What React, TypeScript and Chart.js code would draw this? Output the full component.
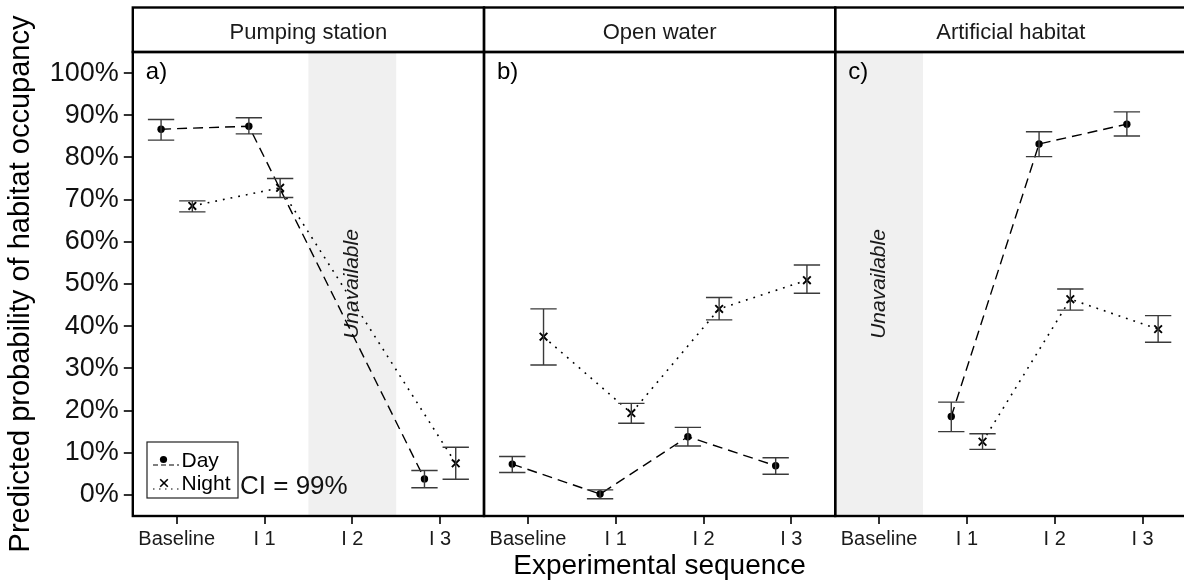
import React, { useEffect, useRef } from 'react';
import { Chart, registerables } from 'chart.js';

Chart.register(...registerables);

// ---------- data ----------
const categories = ['Baseline', 'I 1', 'I 2', 'I 3'];
const panelNames = ['Pumping station', 'Open water', 'Artificial habitat'];
const panelTags = ['a)', 'b)', 'c)'];
// category index that is unavailable in each panel (null = none)
const unavailableCategory: (number | null)[] = [2, null, 0];

const yTickValues = [0, 10, 20, 30, 40, 50, 60, 70, 80, 90, 100];

// Pumping station
const dayPumping = [86.7, 87.4, null, 3.8];
const dayPumpingLo = [84.1, 85.6, null, 1.7];
const dayPumpingHi = [89.0, 89.4, null, 5.8];
const nightPumping = [68.5, 72.8, null, 7.5];
const nightPumpingLo = [67.1, 70.5, null, 3.7];
const nightPumpingHi = [69.7, 75.0, null, 11.3];

// Open water
const dayOpen = [7.3, 0.2, 13.8, 6.9];
const dayOpenLo = [5.3, -0.9, 11.6, 4.9];
const dayOpenHi = [9.1, 1.2, 16.0, 8.8];
const nightOpen = [37.5, 19.4, 44.1, 50.9];
const nightOpenLo = [30.8, 17.0, 41.5, 47.8];
const nightOpenHi = [44.1, 21.7, 46.8, 54.5];

// Artificial habitat
const dayArtificial = [null, 18.6, 83.2, 87.9];
const dayArtificialLo = [null, 15.0, 80.2, 85.1];
const dayArtificialHi = [null, 22.0, 86.1, 90.8];
const nightArtificial = [null, 12.6, 46.4, 39.3];
const nightArtificialLo = [null, 10.8, 43.8, 36.2];
const nightArtificialHi = [null, 14.5, 48.8, 42.5];

const dayMean = [dayPumping, dayOpen, dayArtificial];
const dayLo = [dayPumpingLo, dayOpenLo, dayArtificialLo];
const dayHi = [dayPumpingHi, dayOpenHi, dayArtificialHi];
const nightMean = [nightPumping, nightOpen, nightArtificial];
const nightLo = [nightPumpingLo, nightOpenLo, nightArtificialLo];
const nightHi = [nightPumpingHi, nightOpenHi, nightArtificialHi];

// ---------- helpers ----------
const FONT = '"Liberation Sans", Arial, Helvetica, sans-serif';
const DODGE = 0.178;
const CAP = 0.15;
const xTickValues = Array.from({ length: 12 }, (_, i) => i + 1);

function pos(panel: number, cat: number) {
  return panel * 4 + cat + 1;
}

function toPoints(series: (number | null)[][], offset: number) {
  const pts: { x: number; y: number | null }[] = [];
  series.forEach((vals, p) => {
    vals.forEach((v, c) => {
      if (v !== null) pts.push({ x: pos(p, c) + offset, y: v });
    });
    if (p < series.length - 1) pts.push({ x: p * 4 + 4.5, y: null });
  });
  return pts;
}

function drawCrossRot(ctx: CanvasRenderingContext2D, cx: number, cy: number, r: number) {
  ctx.beginPath();
  ctx.moveTo(cx - r, cy - r);
  ctx.lineTo(cx + r, cy + r);
  ctx.moveTo(cx - r, cy + r);
  ctx.lineTo(cx + r, cy - r);
  ctx.stroke();
}

const decorPlugin = {
  id: 'decor',
  beforeDatasetsDraw(chart: any) {
    const { ctx, chartArea: a, scales } = chart;
    const x = scales.x, y = scales.y;
    ctx.save();
    unavailableCategory.forEach((c, i) => {
      if (c === null) return;
      const p = pos(i, c);
      const l = x.getPixelForValue(p - 0.5);
      const r = x.getPixelForValue(p + 0.5);
      ctx.fillStyle = '#f0f0f0';
      ctx.fillRect(l, a.top, r - l, a.bottom - a.top);
      ctx.save();
      ctx.translate(x.getPixelForValue(p), y.getPixelForValue(50));
      ctx.rotate(-Math.PI / 2);
      ctx.font = `italic 21px ${FONT}`;
      ctx.fillStyle = '#1a1a1a';
      ctx.textAlign = 'center';
      ctx.textBaseline = 'middle';
      ctx.fillText('Unavailable', 0, 0);
      ctx.restore();
    });
    ctx.restore();
  },
  afterDatasetsDraw(chart: any) {
    const { ctx, scales } = chart;
    const x = scales.x, y = scales.y;
    ctx.save();
    ctx.strokeStyle = '#3a3a3a';
    ctx.lineWidth = 1.4;
    ctx.setLineDash([]);
    const groups = [
      { lo: dayLo, hi: dayHi, off: -DODGE },
      { lo: nightLo, hi: nightHi, off: DODGE },
    ];
    groups.forEach((g) => {
      g.lo.forEach((vals, p) => {
        vals.forEach((lo, c) => {
          const hi = g.hi[p][c];
          if (lo === null || hi === null) return;
          const cx = pos(p, c) + g.off;
          const px = x.getPixelForValue(cx);
          const pl = x.getPixelForValue(cx - CAP);
          const pr = x.getPixelForValue(cx + CAP);
          const yl = y.getPixelForValue(lo);
          const yh = y.getPixelForValue(hi);
          ctx.beginPath();
          ctx.moveTo(px, yl);
          ctx.lineTo(px, yh);
          ctx.moveTo(pl, yl);
          ctx.lineTo(pr, yl);
          ctx.moveTo(pl, yh);
          ctx.lineTo(pr, yh);
          ctx.stroke();
        });
      });
    });
    ctx.restore();
  },
  afterDraw(chart: any) {
    const { ctx, chartArea: a, scales } = chart;
    const x = scales.x;
    ctx.save();
    const stripTop = 7.5;
    panelNames.forEach((name, i) => {
      const l = x.getPixelForValue(i * 4 + 0.5);
      const r = x.getPixelForValue(i * 4 + 4.5);
      ctx.strokeStyle = '#000';
      ctx.lineWidth = 2.4;
      ctx.setLineDash([]);
      ctx.strokeRect(l, stripTop, r - l, a.top - stripTop);
      ctx.strokeRect(l, a.top, r - l, a.bottom - a.top);
      ctx.fillStyle = '#1a1a1a';
      ctx.font = `22px ${FONT}`;
      ctx.textAlign = 'center';
      ctx.textBaseline = 'alphabetic';
      ctx.fillText(name, (l + r) / 2, 38.5);
      ctx.textAlign = 'left';
      ctx.font = `24px ${FONT}`;
      ctx.fillStyle = '#000';
      ctx.fillText(panelTags[i], l + 13, 79);
    });

    // legend
    ctx.lineWidth = 1.2;
    ctx.strokeStyle = '#222';
    ctx.strokeRect(147, 442, 91, 56);
    ctx.strokeStyle = '#000';
    ctx.fillStyle = '#000';
    ctx.lineWidth = 1.2;
    ctx.setLineDash([5, 3]);
    ctx.beginPath();
    ctx.moveTo(153, 465);
    ctx.lineTo(179, 465);
    ctx.stroke();
    ctx.setLineDash([1.5, 4.5]);
    ctx.beginPath();
    ctx.moveTo(153, 489);
    ctx.lineTo(179, 489);
    ctx.stroke();
    ctx.setLineDash([]);
    ctx.beginPath();
    ctx.arc(163.5, 459.5, 3.6, 0, Math.PI * 2);
    ctx.fill();
    ctx.lineWidth = 1.6;
    drawCrossRot(ctx, 164, 483, 3.8);
    ctx.font = `21px ${FONT}`;
    ctx.textAlign = 'left';
    ctx.textBaseline = 'alphabetic';
    ctx.fillText('Day', 181.5, 466.5);
    ctx.fillText('Night', 181.5, 490);

    ctx.font = `26px ${FONT}`;
    ctx.fillStyle = '#111';
    ctx.fillText('CI = 99%', 240, 493.5);
    ctx.restore();
  },
};

export default function App() {
  const canvasRef = useRef<HTMLCanvasElement | null>(null);

  useEffect(() => {
    const canvas = canvasRef.current;
    if (!canvas) return;
    const chart = new Chart(canvas, {
      type: 'line',
      data: {
        datasets: [
          {
            label: 'Day',
            data: toPoints(dayMean, -DODGE) as any,
            borderColor: '#000',
            backgroundColor: '#000',
            borderWidth: 1.4,
            borderDash: [10, 6],
            pointStyle: 'circle',
            pointRadius: 3.7,
            pointBorderWidth: 0,
            pointBackgroundColor: '#000',
            spanGaps: false,
            tension: 0,
          },
          {
            label: 'Night',
            data: toPoints(nightMean, DODGE) as any,
            borderColor: '#000',
            backgroundColor: '#000',
            borderWidth: 1.6,
            borderDash: [1.8, 6],
            pointStyle: 'crossRot',
            pointRadius: 5.4,
            pointBorderWidth: 1.9,
            pointBorderColor: '#000',
            spanGaps: false,
            tension: 0,
          },
        ],
      },
      options: {
        animation: false,
        responsive: false,
        devicePixelRatio: 1,
        events: [],
        layout: { padding: { left: 0, right: 13.6, top: 52, bottom: 0 } },
        plugins: {
          legend: { display: false },
          tooltip: { enabled: false },
        },
        scales: {
          x: {
            type: 'linear',
            min: 0.5,
            max: 12.5,
            afterBuildTicks: (s: any) => {
              s.ticks = xTickValues.map((v) => ({ value: v }));
            },
            afterFit: (s: any) => {
              s.height = 69;
            },
            ticks: {
              autoSkip: false,
              maxRotation: 0,
              font: { family: FONT, size: 20 },
              color: '#1a1a1a',
              padding: 3,
              callback: (v: any) => categories[(Math.round(Number(v)) - 1) % 4],
            },
            grid: { drawOnChartArea: false, drawTicks: true, tickLength: 8, color: '#333', lineWidth: 2 },
            border: { display: false },
            title: {
              display: true,
              text: 'Experimental sequence',
              font: { family: FONT, size: 28 },
              color: '#000',
              padding: { top: 0, bottom: 2 },
            },
          },
          y: {
            type: 'linear',
            min: -5,
            max: 105,
            afterBuildTicks: (s: any) => {
              s.ticks = yTickValues.map((v) => ({ value: v }));
            },
            afterFit: (s: any) => {
              s.width = 132.8;
            },
            ticks: {
              font: { family: FONT, size: 27 },
              color: '#111',
              padding: 5,
              callback: (v: any) => `${v}%`,
            },
            grid: { drawOnChartArea: false, drawTicks: true, tickLength: 9, color: '#333', lineWidth: 2 },
            border: { display: false },
            title: {
              display: true,
              text: 'Predicted probability of habitat occupancy',
              font: { family: FONT, size: 29 },
              color: '#000',
              padding: { top: 4, bottom: 0 },
            },
          },
        },
      },
      plugins: [decorPlugin],
    } as any);
    return () => chart.destroy();
  }, []);

  return (
    <div
      style={{
        position: 'absolute',
        left: 0,
        top: 0,
        width: 1184,
        height: 585,
        overflow: 'hidden',
        background: '#fff',
      }}
    >
      <canvas ref={canvasRef} width={1200} height={585} style={{ width: 1200, height: 585, display: 'block' }} />
    </div>
  );
}
